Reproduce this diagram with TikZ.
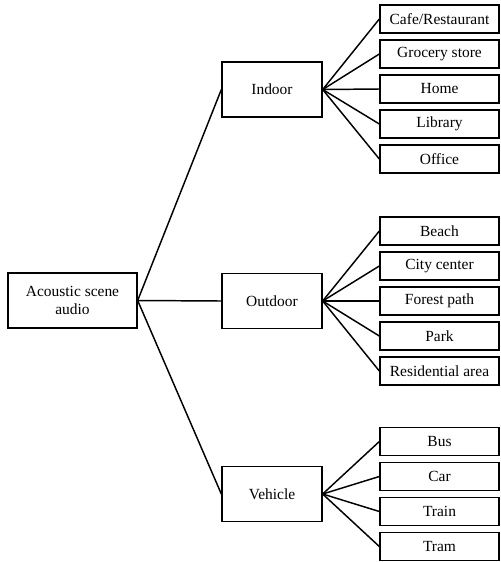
\documentclass[tikz,border=0pt]{standalone}
\usepackage{fontspec}
\setmainfont{Liberation Serif}
\usepackage{tikz}

\begin{document}
\begin{tikzpicture}[x=0.75pt,y=0.75pt,yscale=-1,xscale=1,
  box/.style={draw,line width=1pt,rectangle,inner sep=0.75pt,align=center,
    font=\fontsize{11.6}{13.4}\selectfont},
  rootbox/.style={box,minimum width=96.75pt,minimum height=41.25pt},
  groupbox/.style={box,minimum width=75pt,minimum height=41.25pt},
  leafbox/.style={box,minimum width=89.25pt,minimum height=21pt},
  link/.style={line width=1.1pt}]
%set diagram to 501 x 562
\useasboundingbox (0,0) rectangle (501,562);

% Root
\node [rootbox] (scene) at (72.5,300.5) {Acoustic scene\\audio};

% Groups
\node [groupbox] (indoor) at (272,89.5) {Indoor};
\node [groupbox] (outdoor) at (272,301) {Outdoor};
\node [groupbox] (vehicle) at (272,494) {Vehicle};

% Indoor leaves
\node [leafbox] (cafe) at (439.5,19) {Cafe/Restaurant};
\node [leafbox] (grocery) at (439.5,54) {Grocery store};
\node [leafbox] (home) at (439.5,89) {Home};
\node [leafbox] (library) at (439.5,124) {Library};
\node [leafbox] (office) at (439.5,159) {Office};

% Outdoor leaves
\node [leafbox] (beach) at (439.5,231) {Beach};
\node [leafbox] (city) at (439.5,266) {City center};
\node [leafbox] (forest) at (439.5,301) {Forest path};
\node [leafbox] (park) at (439.5,336) {Park};
\node [leafbox] (resid) at (439.5,371) {Residential area};

% Vehicle leaves
\node [leafbox] (bus) at (439.5,441.5) {Bus};
\node [leafbox] (car) at (439.5,476.5) {Car};
\node [leafbox] (train) at (439.5,511.5) {Train};
\node [leafbox] (tram) at (439.5,546.5) {Tram};

% Straight Lines
\foreach \g in {indoor,outdoor,vehicle}
  \draw [link] (scene.east) -- (\g.west);
\foreach \l in {cafe,grocery,home,library,office}
  \draw [link] (indoor.east) -- (\l.west);
\foreach \l in {beach,city,forest,park,resid}
  \draw [link] (outdoor.east) -- (\l.west);
\foreach \l in {bus,car,train,tram}
  \draw [link] (vehicle.east) -- (\l.west);

\end{tikzpicture}
\end{document}
